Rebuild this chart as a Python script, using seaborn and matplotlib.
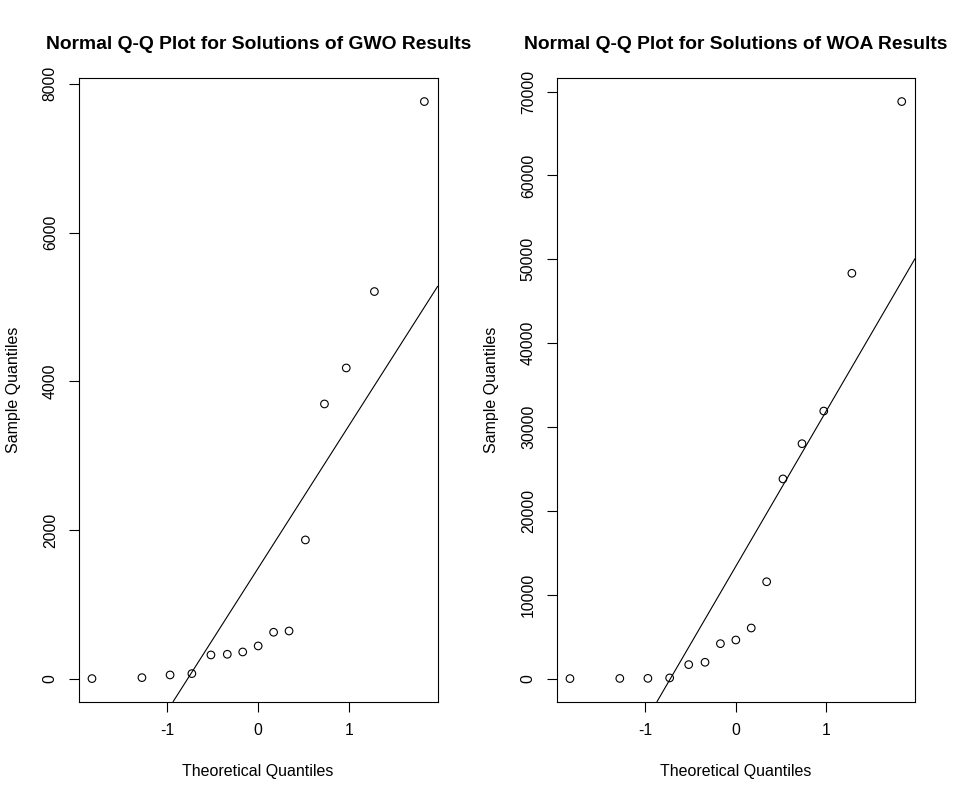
import numpy as np
import pandas as pd
import matplotlib
matplotlib.use("Agg")
import matplotlib.pyplot as plt
import seaborn as sns

# theoretical normal quantiles (n = 15)
theoretical = [-1.83, -1.28, -0.97, -0.73, -0.52, -0.34, -0.17, 0.0,
               0.17, 0.34, 0.52, 0.73, 0.97, 1.28, 1.83]

# sorted sample values
gwo_values = [5, 18, 54, 72, 323, 332, 363, 444, 628, 645,
              1869, 3697, 4181, 5208, 7762]
woa_values = [30, 0, 20, 80, 1667, 1944, 4167, 4603, 6032, 11548,
              23810, 28012, 31905, 48333, 68810]

gwo_ticks = [0, 2000, 4000, 6000, 8000]
woa_ticks = [0, 10000, 20000, 30000, 40000, 50000, 60000, 70000]
x_ticks = [-1, 0, 1]

titles = ["Normal Q-Q Plot for Solutions of GWO Results",
          "Normal Q-Q Plot for Solutions of WOA Results"]

sns.set_theme(style="white")
plt.rcParams["font.family"] = ["Liberation Sans", "DejaVu Sans"]
plt.rcParams["axes.edgecolor"] = "black"
plt.rcParams["axes.linewidth"] = 0.8
plt.rcParams["text.color"] = "black"
plt.rcParams["axes.labelcolor"] = "black"
plt.rcParams["xtick.color"] = "black"
plt.rcParams["ytick.color"] = "black"

fig = plt.figure(figsize=(9.56, 8.0), dpi=100)
ax1 = fig.add_axes([0.0823, 0.1229, 0.3755, 0.779])
ax2 = fig.add_axes([0.5823, 0.1229, 0.3748, 0.779])


def qq_panel(ax, values, yticks, title):
    df = pd.DataFrame({"theoretical": theoretical, "sample": sorted(values)})
    sns.scatterplot(data=df, x="theoretical", y="sample", ax=ax,
                    marker="o", s=30, facecolor="none", edgecolor="black",
                    linewidth=0.8)
    ax.margins(x=0.04, y=0.04)

    # qqline: through the first and third quartiles
    y_q = np.quantile(df["sample"], [0.25, 0.75])
    x_q = np.array([-0.6745, 0.6745])
    slope = (y_q[1] - y_q[0]) / (x_q[1] - x_q[0])
    intercept = y_q[0] - slope * x_q[0]
    ax.axline((0, intercept), slope=slope, color="black", linewidth=0.8)

    ax.set_xticks(x_ticks)
    ax.set_xticklabels([str(t) for t in x_ticks])
    ax.set_yticks(yticks)
    ax.set_yticklabels([str(t) for t in yticks], rotation=90, va="center")
    ax.tick_params(axis="both", direction="out", length=7, width=0.8,
                   color="black", labelcolor="black", labelsize=11.3,
                   bottom=True, left=True)
    ax.tick_params(axis="x", pad=8)
    ax.tick_params(axis="y", pad=8)
    ax.set_xlabel("Theoretical Quantiles", fontsize=11.5, labelpad=19)
    ax.set_ylabel("Sample Quantiles", fontsize=11.5, labelpad=16)
    ax.set_title(title, fontsize=13.9, fontweight="bold", pad=21)
    for side in ["top", "right", "bottom", "left"]:
        ax.spines[side].set_visible(True)
        ax.spines[side].set_color("black")


qq_panel(ax1, gwo_values, gwo_ticks, titles[0])
qq_panel(ax2, woa_values, woa_ticks, titles[1])

fig.savefig("out.png", dpi=100, facecolor="white")
